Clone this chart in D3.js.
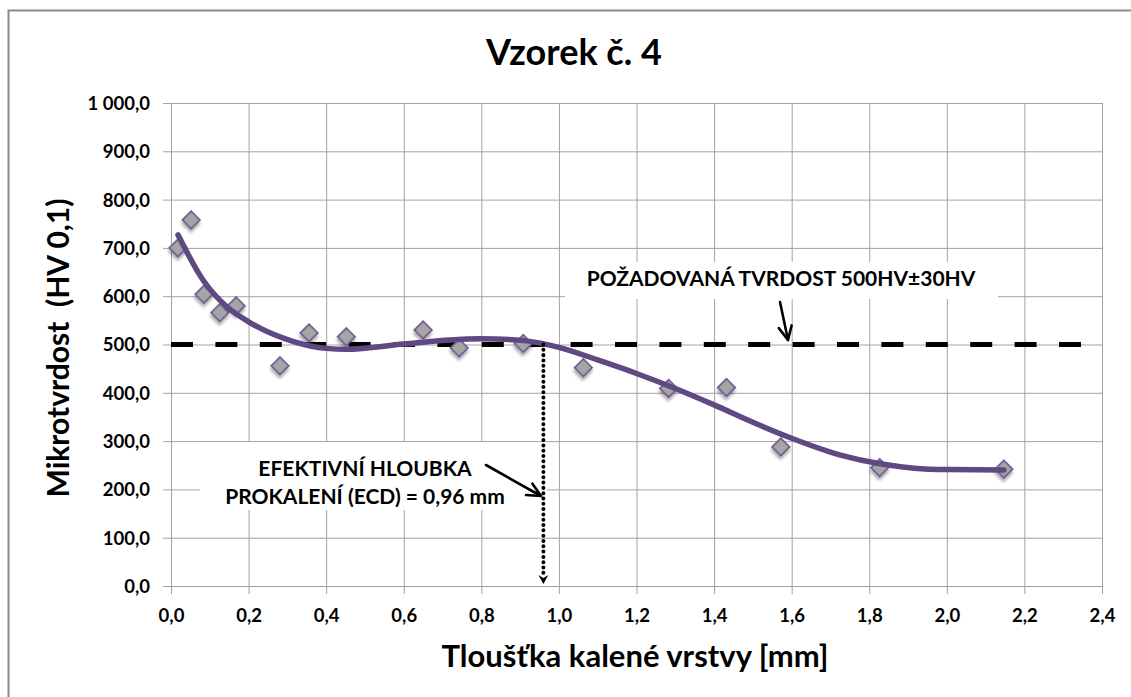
<!DOCTYPE html>
<html>
<head>
<meta charset="utf-8">
<script src="https://cdn.jsdelivr.net/npm/d3@7"></script>
<style>
  body { margin: 0; background: #fff; }
  svg text { font-family: Lato, "Open Sans", sans-serif; font-weight: bold; fill: #000; }
</style>
</head>
<body>
<svg id="chart" width="1131" height="697"></svg>
<script>
// Measured microhardness profile (depth in mm, hardness in HV 0,1)
const depthMm = [0.018, 0.052, 0.085, 0.126, 0.168, 0.281, 0.356, 0.452, 0.650, 0.743,
                 0.908, 1.063, 1.283, 1.432, 1.572, 1.827, 2.147];
const hardnessHV = [700, 758, 604, 566, 580, 456, 524, 516, 530, 493,
                    502, 452, 409, 411, 288, 245, 242];

// Smoothed trend of the profile
const trendDepth = [0.018, 0.083, 0.144, 0.2, 0.316, 0.4, 0.453, 0.6, 0.75, 0.8, 0.91,
                    1.0, 1.1, 1.2, 1.3, 1.4, 1.5, 1.6, 1.726, 1.828, 1.916, 2.0, 2.147];
const trendHV = [727, 633, 578, 547, 506, 492, 490, 501, 511, 512, 508,
                 494, 468, 440, 409, 375, 339, 306, 271, 253, 244, 241, 240];

const xTicks = [0, 0.2, 0.4, 0.6, 0.8, 1.0, 1.2, 1.4, 1.6, 1.8, 2.0, 2.2, 2.4];
const yTicks = [0, 100, 200, 300, 400, 500, 600, 700, 800, 900, 1000];

const requiredHV = 500;     // required hardness level
const ecdDepth = 0.96;      // effective case depth, mm

const titleText = "Vzorek č. 4";
const xTitle = "Tloušťka kalené vrstvy [mm]";
const yTitle = "Mikrotvrdost  (HV 0,1)";
const noteRequired = "POŽADOVANÁ TVRDOST 500HV±30HV";
const noteEcd = ["EFEKTIVNÍ HLOUBKA", "PROKALENÍ (ECD) = 0,96 mm"];

// ---- layout ----
const plot = { left: 171, right: 1102, top: 103, bottom: 586 };
const svg = d3.select("#chart");

const x = d3.scaleLinear().domain([0, 2.4]).range([plot.left, plot.right]);
const y = d3.scaleLinear().domain([0, 1000]).range([plot.bottom, plot.top]);

const cz = d3.formatLocale({ decimal: ",", thousands: "\u00a0", grouping: [3], currency: ["", " Kč"] });
const fmtY = cz.format(",.1f");
const fmtX = cz.format(".1f");

// outer chart border
svg.append("rect")
  .attr("x", 8.5).attr("y", 10.5).attr("width", 1140).attr("height", 700)
  .attr("fill", "#fff").attr("stroke", "#8c8c8c").attr("stroke-width", 2);

const defs = svg.append("defs");
defs.append("filter").attr("id", "markerShadow")
  .attr("x", "-50%").attr("y", "-50%").attr("width", "200%").attr("height", "200%")
  .append("feDropShadow")
  .attr("dx", 2).attr("dy", 2.5).attr("stdDeviation", 1.6)
  .attr("flood-color", "#000").attr("flood-opacity", 0.35);

const gridColor = "#a3a3a3";

// gridlines + axes
const xAxis = d3.axisBottom(x).tickValues(xTicks).tickFormat(fmtX)
  .tickSizeInner(-(plot.bottom - plot.top)).tickSizeOuter(0).tickPadding(0);
const gx = svg.append("g").attr("transform", `translate(0,${plot.bottom})`).call(xAxis);
gx.select(".domain").attr("stroke", gridColor);
gx.selectAll(".tick line").attr("stroke", gridColor)
  .attr("y1", 8).attr("y2", -(plot.bottom - plot.top));
gx.selectAll(".tick text").attr("y", 36).attr("dy", 0)
  .style("font-size", "18.5px");

const yAxis = d3.axisLeft(y).tickValues(yTicks).tickFormat(fmtY)
  .tickSizeInner(-(plot.right - plot.left)).tickSizeOuter(0).tickPadding(0);
const gy = svg.append("g").attr("transform", `translate(${plot.left},0)`).call(yAxis);
gy.select(".domain").attr("stroke", gridColor);
gy.selectAll(".tick line").attr("stroke", gridColor)
  .attr("x1", -8).attr("x2", plot.right - plot.left);
gy.selectAll(".tick text").attr("x", -21).attr("dy", "0.35em")
  .style("font-size", "18.5px");

// annotation backgrounds (they hide the grid under the notes)
svg.append("rect").attr("x", 565).attr("y", 262).attr("width", 433).attr("height", 37).attr("fill", "#fff");
svg.append("rect").attr("x", 200).attr("y", 442).attr("width", 347).attr("height", 68).attr("fill", "#fff");

// required hardness line
svg.append("line")
  .attr("x1", x(0)).attr("x2", x(2.4))
  .attr("y1", y(requiredHV)).attr("y2", y(requiredHV))
  .attr("stroke", "#000").attr("stroke-width", 5)
  .attr("stroke-dasharray", "22,22.4");

// markers
svg.append("g").selectAll("path")
  .data(depthMm.map((d, i) => [d, hardnessHV[i]]))
  .join("path")
  .attr("d", d3.symbol(d3.symbolSquare, 155))
  .attr("transform", d => `translate(${x(d[0])},${y(d[1])}) rotate(45)`)
  .attr("fill", "#a5a5a5").attr("stroke", "#6a5591").attr("stroke-width", 1.6)
  .attr("filter", "url(#markerShadow)");

// trend curve
svg.append("path")
  .datum(trendDepth.map((d, i) => [d, trendHV[i]]))
  .attr("d", d3.line().x(d => x(d[0])).y(d => y(d[1])).curve(d3.curveMonotoneX))
  .attr("fill", "none").attr("stroke", "#5e4983").attr("stroke-width", 5.5)
  .attr("stroke-linecap", "round").attr("stroke-linejoin", "round");

// effective case depth: dotted drop line with arrowhead
const ecdX = x(ecdDepth);
svg.append("line")
  .attr("x1", ecdX).attr("x2", ecdX)
  .attr("y1", y(requiredHV)).attr("y2", y(0) - 8)
  .attr("stroke", "#000").attr("stroke-width", 4)
  .attr("stroke-dasharray", "0.01,5.3").attr("stroke-linecap", "round");
svg.append("path")
  .attr("d", `M${ecdX - 5},${y(0) - 11} L${ecdX},${y(0) - 2} L${ecdX + 5},${y(0) - 11} L${ecdX},${y(0) - 8}Z`)
  .attr("fill", "#000");

// open arrow helper
function arrow(x1, y1, x2, y2) {
  const g = svg.append("g").attr("stroke", "#000").attr("stroke-width", 2.6)
    .attr("fill", "none").attr("stroke-linecap", "round").attr("stroke-linejoin", "round");
  g.append("line").attr("x1", x1).attr("y1", y1).attr("x2", x2).attr("y2", y2);
  const a = Math.atan2(y2 - y1, x2 - x1), L = 15, w = 0.45;
  g.append("path").attr("d",
    `M${x2 - L * Math.cos(a - w)},${y2 - L * Math.sin(a - w)} L${x2},${y2} L${x2 - L * Math.cos(a + w)},${y2 - L * Math.sin(a + w)}`);
}
arrow(780, 302, 788, 340);
arrow(486, 465, 541, 496);

// notes
svg.append("text").attr("x", 781).attr("y", 286).attr("text-anchor", "middle")
  .style("font-size", "21px").text(noteRequired);
svg.append("text").attr("x", 365).attr("y", 476).attr("text-anchor", "middle")
  .style("font-size", "21px").text(noteEcd[0]);
svg.append("text").attr("x", 365).attr("y", 504).attr("text-anchor", "middle")
  .style("font-size", "21px").text(noteEcd[1]);

// titles
svg.append("text").attr("x", 574).attr("y", 65).attr("text-anchor", "middle")
  .style("font-size", "36px").text(titleText);
svg.append("text").attr("x", 635).attr("y", 667).attr("text-anchor", "middle")
  .style("font-size", "31px").text(xTitle);
svg.append("text")
  .attr("transform", "translate(69,348) rotate(-90)")
  .attr("text-anchor", "middle").attr("xml:space", "preserve")
  .style("white-space", "pre").style("font-size", "30px").text(yTitle);
</script>
</body>
</html>
